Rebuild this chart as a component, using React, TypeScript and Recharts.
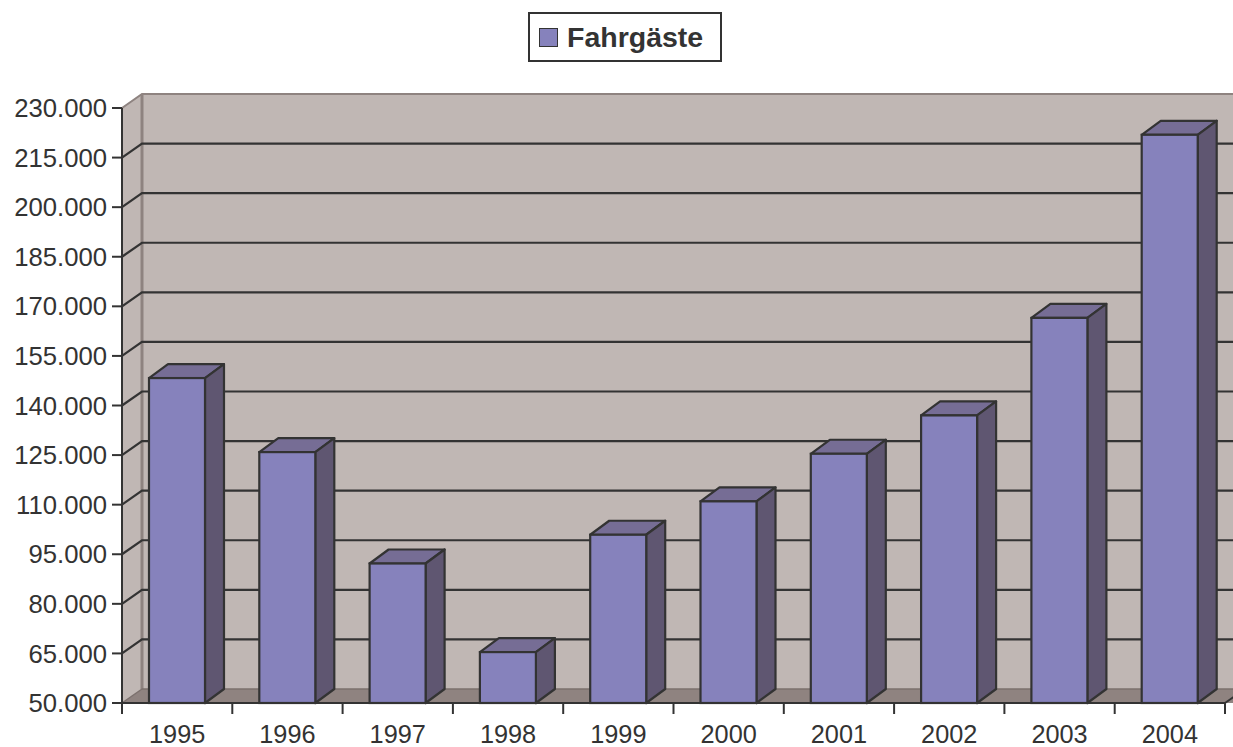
import React from 'react';
import { BarChart, Bar, XAxis, YAxis, CartesianGrid, Legend } from 'recharts';

const years = ['1995', '1996', '1997', '1998', '1999', '2000', '2001', '2002', '2003', '2004'];
const passengers = [148300, 125900, 92200, 65400, 100900, 111000, 125400, 137000, 166500, 221900];
const yTicks = [50000, 65000, 80000, 95000, 110000, 125000, 140000, 155000, 170000, 185000, 200000, 215000, 230000];
const seriesName = 'Fahrgäste';

const data = years.map((year, i) => ({ year, value: passengers[i] }));

const FONT = '"Liberation Sans", Arial, Helvetica, sans-serif';
const TEXT = '#333333';
const WALL = '#c0b7b4';
const FLOOR = '#8f8380';
const EDGE = '#8e8380';
const BAR_FRONT = '#8682bc';
const BAR_TOP = '#766d95';
const BAR_SIDE = '#5f5671';
const OUTLINE = '#333333';
const WDX = 20;
const WDY = 14;
const BDX = 19;
const BDY = 14;

const fmt = (n: number) => String(n).replace(/\B(?=(\d{3})+(?!\d))/g, '.');

const GridLine = (props: any) => {
  const { x1, x2, y1, index, x, y, width, height } = props;
  const px = x ?? 122;
  const py = y ?? 108;
  const pw = width ?? 1103;
  const ph = height ?? 595;
  const bottom = py + ph;
  const parts: React.ReactNode[] = [];
  if (index === 0) {
    parts.push(
      <g key="walls">
        <rect x={px + WDX} y={py - WDY} width={pw + 40} height={ph} fill={WALL} />
        <polygon
          points={`${px},${py} ${px + WDX},${py - WDY} ${px + WDX},${bottom - WDY} ${px},${bottom}`}
          fill={WALL}
        />
        <polygon
          points={`${px},${bottom} ${px + WDX},${bottom - WDY} ${px + pw + WDX + 20},${bottom - WDY} ${px + pw + 20},${bottom}`}
          fill={FLOOR}
        />
        <path
          d={`M${px},${py} L${px + WDX},${py - WDY} L${px + pw + 60},${py - WDY}`}
          fill="none"
          stroke={EDGE}
          strokeWidth={2}
        />
        <path d={`M${px + WDX},${py - WDY} L${px + WDX},${bottom - WDY}`} fill="none" stroke={EDGE} strokeWidth={3} />
        <path d={`M${px + WDX},${bottom - WDY} L${px + pw + 60},${bottom - WDY}`} fill="none" stroke="#7b706d" strokeWidth={1.5} />
        <path d={`M${px},${bottom} L${px + WDX},${bottom - WDY}`} fill="none" stroke="#7b706d" strokeWidth={1.5} />
        <path d={`M${px + pw},${bottom} L${px + pw + WDX},${bottom - WDY}`} fill="none" stroke={OUTLINE} strokeWidth={2} />
      </g>
    );
  }
  const isEdge = Math.abs(y1 - py) < 1 || Math.abs(y1 - bottom) < 1;
  if (!isEdge) {
    parts.push(
      <path
        key="line"
        d={`M${x1},${y1} L${x1 + WDX},${y1 - WDY} L${x2 + 60},${y1 - WDY}`}
        fill="none"
        stroke={OUTLINE}
        strokeWidth={2.2}
      />
    );
  }
  return <g>{parts}</g>;
};

const Bar3D = (props: any) => {
  const { x, y, width, height } = props;
  if (width == null || height == null) return null;
  const r = x + width;
  const b = y + height;
  return (
    <g>
      <polygon
        points={`${x},${y} ${x + BDX},${y - BDY} ${r + BDX},${y - BDY} ${r},${y}`}
        fill={BAR_TOP}
        stroke={OUTLINE}
        strokeWidth={2.2}
        strokeLinejoin="round"
      />
      <polygon
        points={`${r},${y} ${r + BDX},${y - BDY} ${r + BDX},${b - BDY} ${r},${b}`}
        fill={BAR_SIDE}
        stroke={OUTLINE}
        strokeWidth={2.2}
        strokeLinejoin="round"
      />
      <rect x={x} y={y} width={width} height={height} fill={BAR_FRONT} stroke={OUTLINE} strokeWidth={2.2} />
    </g>
  );
};

const XTick = (props: any) => {
  const { x, y, payload, index, width } = props;
  const band = (width ?? 1103) / years.length;
  const left = x - band / 2;
  return (
    <g>
      <line x1={left} y1={y} x2={left} y2={y + 11} stroke={OUTLINE} strokeWidth={2} />
      {index === years.length - 1 && (
        <line x1={left + band} y1={y} x2={left + band} y2={y + 11} stroke={OUTLINE} strokeWidth={2} />
      )}
      <text x={x} y={y + 22} dy="0.71em" textAnchor="middle" fill={TEXT} fontSize={25.3} fontFamily={FONT}>
        {payload.value}
      </text>
    </g>
  );
};

const LegendBox = () => (
  <div
    style={{
      boxSizing: 'border-box',
      width: 194,
      height: 50,
      border: `2px solid ${OUTLINE}`,
      background: '#ffffff',
      display: 'flex',
      alignItems: 'center',
      paddingLeft: 9,
    }}
  >
    <div
      style={{
        boxSizing: 'border-box',
        width: 19,
        height: 19,
        background: BAR_FRONT,
        border: `1.5px solid ${OUTLINE}`,
        marginRight: 9,
      }}
    />
    <span style={{ fontFamily: FONT, fontWeight: 'bold', fontSize: 28.5, color: TEXT, lineHeight: 1 }}>{seriesName}</span>
  </div>
);

export default function App() {
  return (
    <div style={{ position: 'absolute', left: 0, top: 0, width: 1233, height: 747, background: '#ffffff' }}>
      <BarChart width={1233} height={747} data={data} margin={{ top: 108, right: 8, bottom: 0, left: 0 }}>
        <CartesianGrid vertical={false} horizontal={GridLine} />
        <XAxis
          dataKey="year"
          height={44}
          interval={0}
          tickSize={0}
          tickMargin={0}
          tickLine={false}
          axisLine={{ stroke: OUTLINE, strokeWidth: 2 }}
          tick={XTick}
        />
        <YAxis
          width={122}
          domain={[50000, 230000]}
          ticks={yTicks}
          interval={0}
          tickFormatter={fmt}
          tickSize={10}
          tickMargin={5}
          axisLine={{ stroke: OUTLINE, strokeWidth: 2 }}
          tickLine={{ stroke: OUTLINE, strokeWidth: 2 }}
          tick={{ fill: TEXT, fontSize: 25.7, fontFamily: FONT }}
        />
        <Legend
          layout="horizontal"
          verticalAlign="middle"
          align="center"
          wrapperStyle={{ top: 12, left: 528, width: 194, height: 50 }}
          content={LegendBox}
        />
        <Bar dataKey="value" name={seriesName} barSize={56} shape={Bar3D} isAnimationActive={false} />
      </BarChart>
    </div>
  );
}
